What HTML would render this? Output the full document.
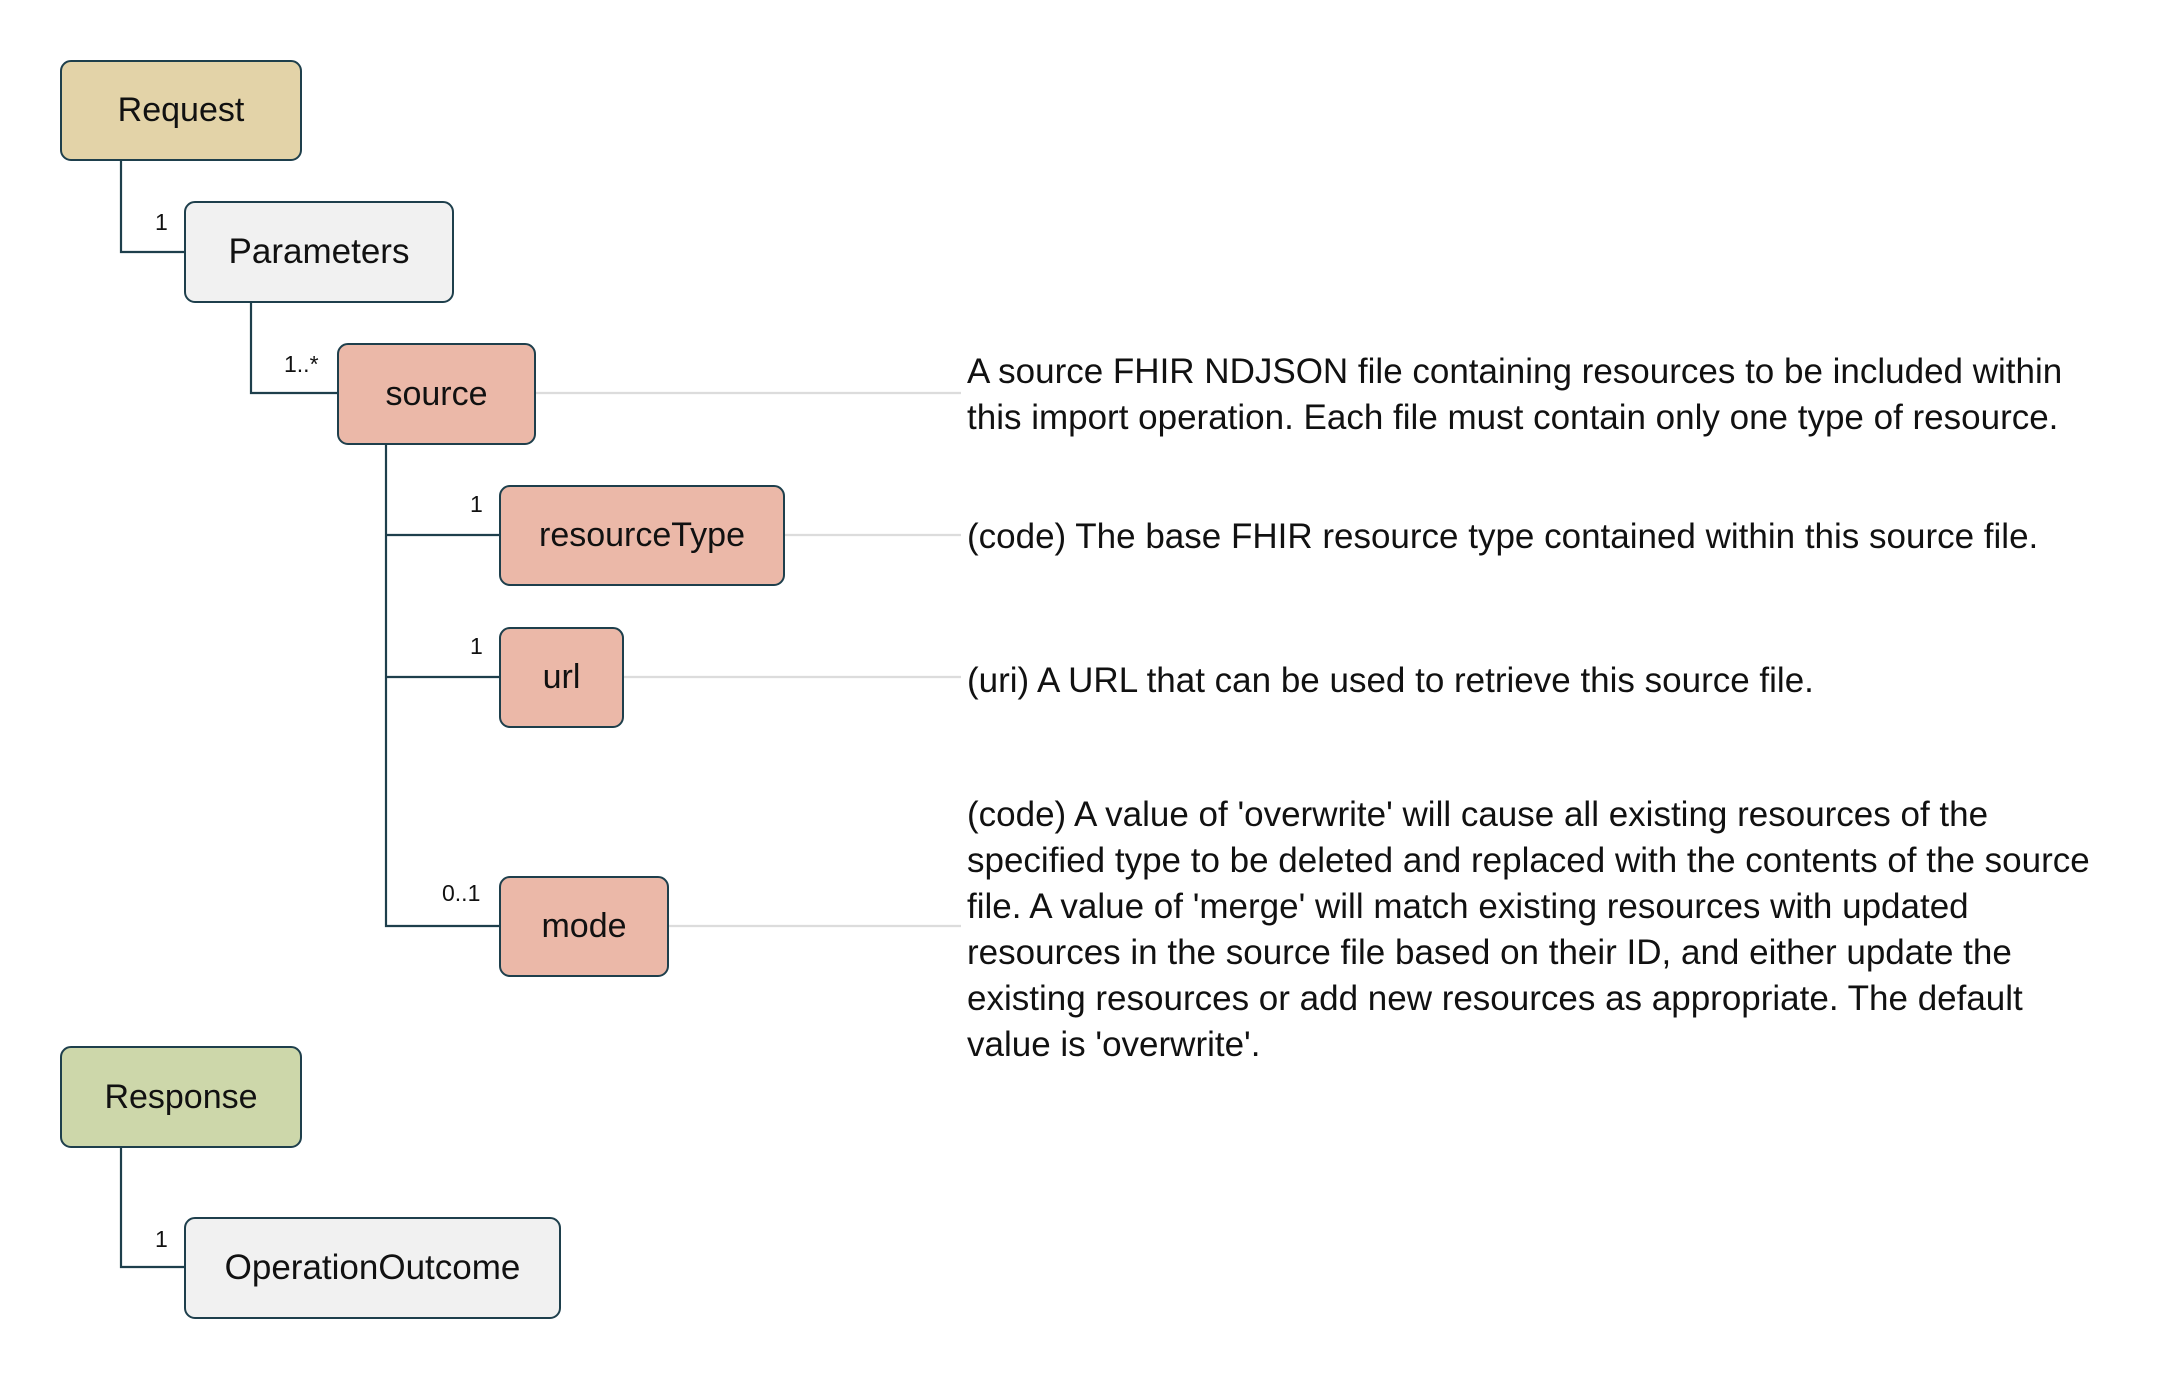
<!DOCTYPE html>
<html><head><meta charset="utf-8"><style>
body{margin:0;width:2170px;height:1379px;background:#fff;position:relative;overflow:hidden;font-family:"Liberation Sans",sans-serif;color:#111}
.b{position:absolute;box-sizing:border-box;border:2px solid #1e3f4c;border-radius:11px;display:flex;align-items:center;justify-content:center;font-size:34px}
.m{position:absolute;font-size:23px;line-height:1}
.d{position:absolute;left:967px;font-size:35px;line-height:46px;white-space:nowrap}
svg{position:absolute;left:0;top:0}
</style></head><body>
<svg width="2170" height="1379">
<g stroke="#1e3f4c" stroke-width="2.2" fill="none">
<polyline points="121,161 121,252 184,252"/>
<polyline points="251,303 251,393 337,393"/>
<polyline points="386,444 386,926 499,926"/>
<line x1="386" y1="535" x2="499" y2="535"/>
<line x1="386" y1="677" x2="499" y2="677"/>
<polyline points="121,1147 121,1267 184,1267"/>
</g>
<g stroke="#dcdcdc" stroke-width="2.2">
<line x1="535" y1="393" x2="961" y2="393"/>
<line x1="784" y1="535" x2="961" y2="535"/>
<line x1="623" y1="677" x2="961" y2="677"/>
<line x1="668" y1="926" x2="961" y2="926"/>
</g>
</svg>
<div class="b" style="left:60px;top:60px;width:242px;height:101px;background:#e3d3a8">Request</div>
<div class="b" style="left:184px;top:201px;width:270px;height:102px;background:#f1f1f1;font-size:35px">Parameters</div>
<div class="b" style="left:337px;top:343px;width:199px;height:102px;background:#ebb8a8">source</div>
<div class="b" style="left:499px;top:485px;width:286px;height:101px;background:#ebb8a8">resourceType</div>
<div class="b" style="left:499px;top:627px;width:125px;height:101px;background:#ebb8a8">url</div>
<div class="b" style="left:499px;top:876px;width:170px;height:101px;background:#ebb8a8">mode</div>
<div class="b" style="left:60px;top:1046px;width:242px;height:102px;background:#cdd7aa">Response</div>
<div class="b" style="left:184px;top:1217px;width:377px;height:102px;background:#f1f1f1;font-size:35px">OperationOutcome</div>
<div class="m" style="left:155px;top:211px">1</div>
<div class="m" style="left:284px;top:353px">1..*</div>
<div class="m" style="left:470px;top:493px">1</div>
<div class="m" style="left:470px;top:635px">1</div>
<div class="m" style="left:442px;top:882px">0..1</div>
<div class="m" style="left:155px;top:1228px">1</div>
<div class="d" style="top:349px">A source FHIR NDJSON file containing resources to be included within<br>this import operation. Each file must contain only one type of resource.</div>
<div class="d" style="top:514px">(code) The base FHIR resource type contained within this source file.</div>
<div class="d" style="top:658px">(uri) A URL that can be used to retrieve this source file.</div>
<div class="d" style="top:792px">(code) A value of 'overwrite' will cause all existing resources of the<br>specified type to be deleted and replaced with the contents of the source<br>file. A value of 'merge' will match existing resources with updated<br>resources in the source file based on their ID, and either update the<br>existing resources or add new resources as appropriate. The default<br>value is 'overwrite'.</div>
</body></html>
